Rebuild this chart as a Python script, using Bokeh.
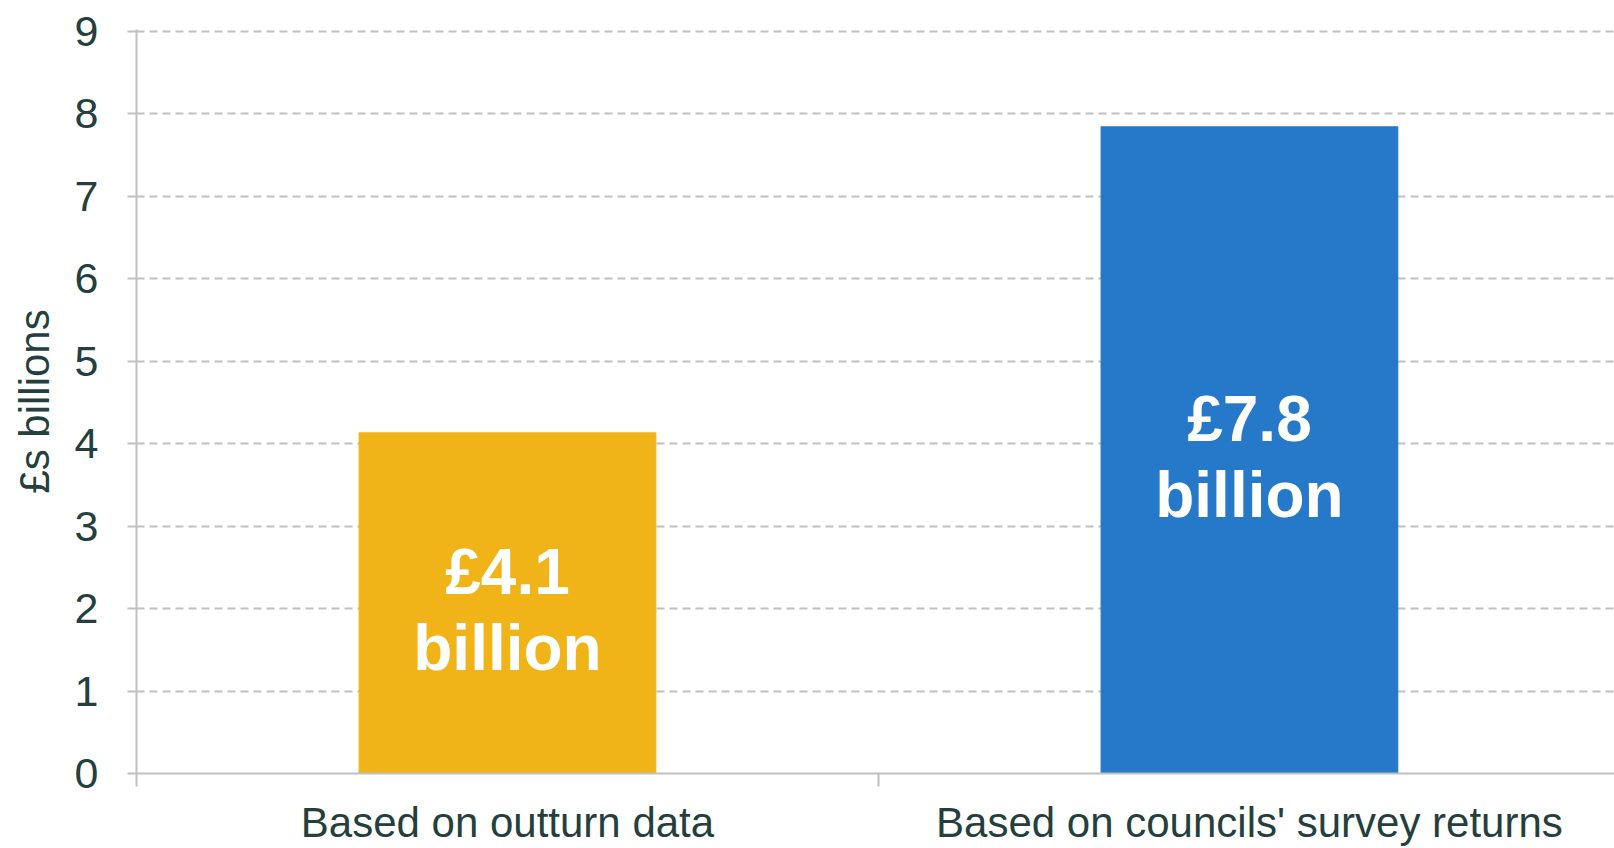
from bokeh.plotting import figure
from bokeh.models import Range1d, FixedTicker, LinearAxis, ColumnDataSource, Grid
from bokeh.core.properties import value
from bokeh.embed import file_html
from bokeh.resources import INLINE

categories = ["Based on outturn data", "Based on councils' survey returns"]
values = [4.13, 7.84]
value_labels = ["£4.1", "£7.8"]
unit_labels = ["billion", "billion"]
colors = ["#F0B419", "#2678C8"]
y_ticks = [0, 1, 2, 3, 4, 5, 6, 7, 8, 9]

TEXT = "#243F3E"
GRID = "#C0C0C0"
FONT = "Liberation Sans"

xc = [i + 0.5 for i in range(len(categories))]
src = ColumnDataSource(dict(
    x=xc, top=values, mid=[v / 2 for v in values],
    vl=value_labels, ul=unit_labels, color=colors,
))

p = figure(width=1614, height=848, output_backend="svg", toolbar_location=None,
           x_range=Range1d(0, 1.992), y_range=Range1d(0, 9.02),
           min_border_left=136, min_border_right=0, min_border_top=29,
           min_border_bottom=0, x_axis_type=None, y_axis_type=None)
p.outline_line_color = None
p.background_fill_color = "white"

p.vbar(x="x", top="top", bottom=0, width=0.40, color="color", source=src)

p.text(x="x", y="mid", text="vl", source=src, text_align="center",
       text_baseline="middle", y_offset=-31, text_color="white",
       text_font=value(FONT), text_font_style="bold", text_font_size="64px")
p.text(x="x", y="mid", text="ul", source=src, text_align="center",
       text_baseline="middle", y_offset=45, text_color="white",
       text_font=value(FONT), text_font_style="bold", text_font_size="64px")

# y axis
yax = LinearAxis(ticker=FixedTicker(ticks=y_ticks))
yax.axis_label = "£s billions"
yax.axis_label_text_font = FONT
yax.axis_label_text_font_size = "42px"
yax.axis_label_text_font_style = "normal"
yax.axis_label_text_color = TEXT
yax.axis_label_standoff = 14
yax.major_label_text_font = FONT
yax.major_label_text_font_size = "43px"
yax.major_label_text_color = TEXT
yax.major_label_standoff = 29
yax.axis_line_color = GRID
yax.axis_line_width = 2
yax.major_tick_line_color = GRID
yax.major_tick_line_width = 2
yax.major_tick_out = 9
yax.major_tick_in = 0
yax.minor_tick_line_color = None
p.add_layout(yax, "left")

# x axis: labels at category centres, minor ticks at category boundaries
xax = LinearAxis(ticker=FixedTicker(ticks=xc, minor_ticks=[0, 1, 2]))
xax.major_label_overrides = {xc[i]: categories[i] for i in range(len(categories))}
xax.major_label_text_font = FONT
xax.major_label_text_font_size = "42px"
xax.major_label_text_color = TEXT
xax.major_label_standoff = 12
xax.axis_line_color = GRID
xax.axis_line_width = 2
xax.major_tick_line_color = None
xax.major_tick_out = 0
xax.major_tick_in = 0
xax.minor_tick_line_color = GRID
xax.minor_tick_line_width = 2
xax.minor_tick_out = 13
xax.minor_tick_in = 0
p.add_layout(xax, "below")

grid = Grid(dimension=1, ticker=FixedTicker(ticks=y_ticks))
grid.grid_line_color = GRID
grid.grid_line_width = 2
grid.grid_line_dash = "8 5"
p.add_layout(grid)

open("out.html", "w").write(file_html(p, INLINE))
